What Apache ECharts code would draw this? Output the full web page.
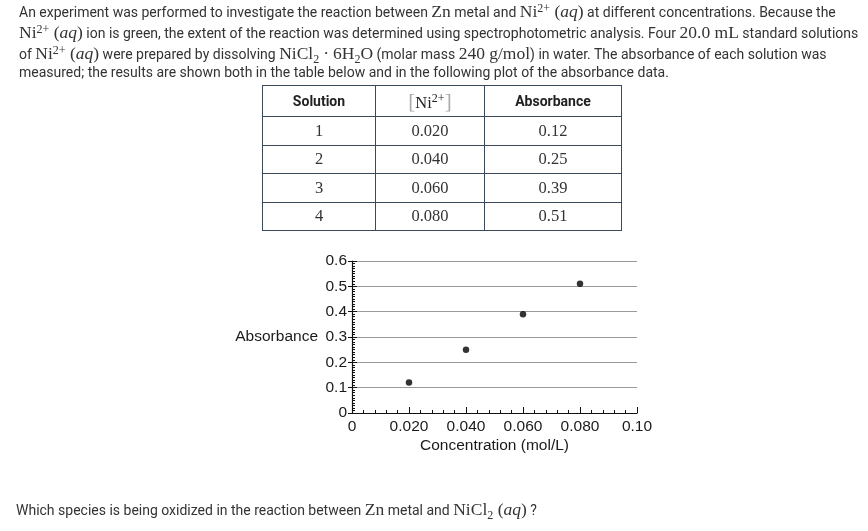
<!DOCTYPE html>
<html>
<head>
<meta charset="utf-8">
<script src="https://cdn.jsdelivr.net/npm/echarts@6/dist/echarts.min.js"></script>
<style>
  html, body { margin: 0; padding: 0; background: #fff; }
  body { width: 868px; height: 531px; position: relative; overflow: hidden; font-family: Roboto, "Noto Sans", sans-serif; color: #333; }
  #chart { position: absolute; left: 0; top: 0; width: 868px; height: 531px; }
  .line { position: absolute; left: 19px; white-space: nowrap; font-size: 14px; line-height: 20px; z-index: 2; }
  .m { font-family: "Liberation Serif", "DejaVu Serif", serif; font-size: 17.5px; }
  .i { font-style: italic; }
  .dot { margin: 0 4px; }
  sup, sub { font-size: 12px; line-height: 0; vertical-align: baseline; position: relative; }
  sup { top: -0.42em; }
  sub { top: 0.3em; }
  table { position: absolute; left: 262px; top: 85px; border-collapse: collapse; z-index: 2; }
  td, th { border: 1px solid #3b4a5a; text-align: center; padding: 0; }
  th { font-weight: bold; font-size: 14px; height: 30px; color: #222; }
  td { height: 27.5px; font-family: "Liberation Serif", serif; font-size: 16.5px; color: #333; }
  .br { color: #aaa; font-size: 21px; }
</style>
</head>
<body>
<div id="chart"></div>
<div class="line" style="top:1px">An experiment was performed to investigate the reaction between <span class="m">Zn</span> metal and <span class="m">Ni<sup>2+</sup> (<span class="i">aq</span>)</span> at different concentrations. Because the</div>
<div class="line" style="top:22px"><span class="m">Ni<sup>2+</sup> (<span class="i">aq</span>)</span> ion is green, the extent of the reaction was determined using spectrophotometric analysis. Four <span class="m">20.0 mL</span> standard solutions</div>
<div class="line" style="top:43px">of <span class="m">Ni<sup>2+</sup> (<span class="i">aq</span>)</span> were prepared by dissolving <span class="m">NiCl<sub>2</sub><span class="dot">·</span>6H<sub>2</sub>O</span> (molar mass <span class="m">240 g/mol</span>) in water. The absorbance of each solution was</div>
<div class="line" style="top:62px">measured; the results are shown both in the table below and in the following plot of the absorbance data.</div>
<table id="tbl"></table>
<div class="line" style="top:499px;left:16px">Which species is being oxidized in the reaction between <span class="m">Zn</span> metal and <span class="m">NiCl<sub>2</sub> (<span class="i">aq</span>)</span> ?</div>
<script>
const solutions = [1, 2, 3, 4];
const concentrations = [0.020, 0.040, 0.060, 0.080];
const absorbances = [0.12, 0.25, 0.39, 0.51];
const xTickLabels = ['0', '0.020', '0.040', '0.060', '0.080', '0.10'];
const yTickLabels = ['0', '0.1', '0.2', '0.3', '0.4', '0.5', '0.6'];
const tableHeaders = ['Solution', '[Ni2+]', 'Absorbance'];

// table built from the arrays
(function () {
  const t = document.getElementById('tbl');
  let h = '<tr>';
  h += '<th style="width:112px">' + tableHeaders[0] + '</th>';
  h += '<th style="width:108px;font-family:\'Liberation Serif\',serif;font-weight:normal;font-size:16.5px"><span class="br">[</span>Ni<sup>2+</sup><span class="br">]</span></th>';
  h += '<th style="width:136px">' + tableHeaders[2] + '</th></tr>';
  for (let i = 0; i < solutions.length; i++) {
    h += '<tr><td>' + solutions[i] + '</td><td>' + concentrations[i].toFixed(3) + '</td><td>' + absorbances[i].toFixed(2) + '</td></tr>';
  }
  t.innerHTML = h;
})();

const chart = echarts.init(document.getElementById('chart'), null, { renderer: 'canvas' });
const labelFont = { fontFamily: 'Liberation Sans', fontSize: 15.5, color: '#1a1a1a' };
const axisBase = { type: 'value', min: 0, max: 0.6, interval: 0.1 };
chart.setOption({
  animation: false,
  backgroundColor: 'transparent',
  grid: { left: 352, right: 231, top: 261, bottom: 118, containLabel: false },
  xAxis: {
    type: 'value', min: 0, max: 0.1, interval: 0.02,
    name: 'Concentration (mol/L)', nameLocation: 'middle', nameGap: 25,
    nameTextStyle: labelFont,
    axisLine: { show: true, lineStyle: { color: '#111', width: 1.2 } },
    axisTick: { show: true, inside: true, length: 6, lineStyle: { color: '#111' } },
    minorTick: { show: true, splitNumber: 5, length: 3, lineStyle: { color: '#111' } },
    splitLine: { show: false },
    axisLabel: Object.assign({ margin: 6, formatter: v => xTickLabels[Math.round(v / 0.02)] }, labelFont)
  },
  yAxis: [
    Object.assign({}, axisBase, {
      name: 'Absorbance', nameLocation: 'middle', nameRotate: 0, nameGap: 34,
      nameTextStyle: Object.assign({ align: 'right', verticalAlign: 'middle' }, labelFont),
      axisLine: { show: true, lineStyle: { color: '#111', width: 1.2 } },
      axisTick: { show: true, inside: false, length: 4, lineStyle: { color: '#111' } },
      splitLine: { show: true, lineStyle: { color: '#9a9a9a', width: 1 } },
      axisLabel: Object.assign({ margin: 5, formatter: v => yTickLabels[Math.round(v / 0.1)] }, labelFont)
    }),
    Object.assign({}, axisBase, {
      position: 'left',
      axisLine: { show: false },
      axisTick: { show: true, inside: true, length: 5, lineStyle: { color: '#111' } },
      minorTick: { show: true, splitNumber: 10, length: 3, lineStyle: { color: '#111' } },
      splitLine: { show: false },
      axisLabel: { show: false }
    })
  ],
  series: [{
    type: 'scatter',
    data: concentrations.map((c, i) => [c, absorbances[i]]),
    symbol: 'circle',
    symbolSize: 6.5,
    itemStyle: { color: '#000' }
  }]
});
</script>
</body>
</html>
